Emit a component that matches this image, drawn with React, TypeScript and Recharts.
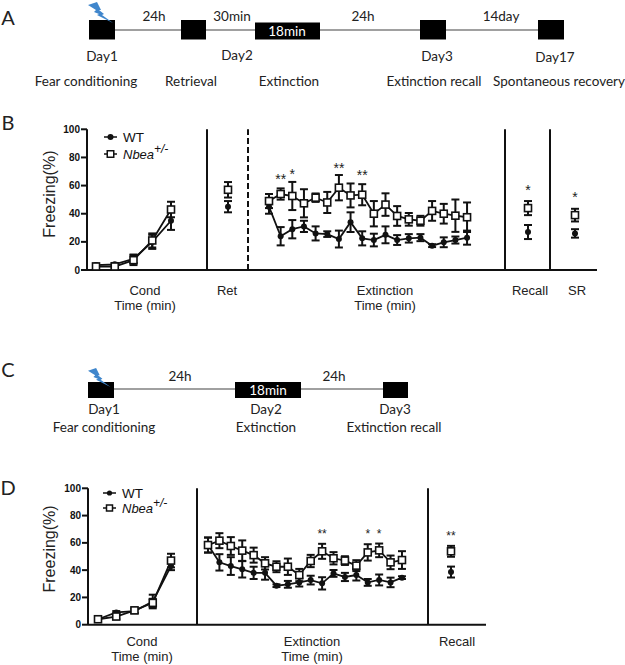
import React from "react";
import { ComposedChart, Line, XAxis, YAxis, ErrorBar, ReferenceLine, ReferenceDot, ReferenceArea, Legend } from "recharts";

// ---------- values (Freezing %) ----------
const bCondWT = [3.5, 4, 8, 20, 35];
const bCondWTErr = [1, 1, 3, 5, 6.5];
const bCondKO = [2.5, 2.5, 7, 21, 43];
const bCondKOErr = [1, 1, 3.5, 5, 5.5];
const bRetWT = [45];
const bRetWTErr = [4];
const bRetKO = [57];
const bRetKOErr = [5.5];
const bExtWT = [45, 24, 29, 31, 26, 25.5, 22, 34, 22.5, 21.3, 25, 21.3, 22.5, 23, 17.3, 19.7, 21.3, 23];
const bExtWTErr = [5, 6.5, 6.5, 4, 5, 2, 6, 7, 5, 4.5, 6, 3.5, 3, 2.5, 1, 3.5, 2.5, 5];
const bExtKO = [49, 54, 52.6, 47.4, 51.4, 48, 58.5, 53, 53.5, 40, 46.5, 38.4, 36, 35, 42, 40, 38.6, 37.5];
const bExtKOErr = [5, 4, 10, 10, 3, 7.5, 9, 8.5, 7.5, 9, 8, 7, 4.5, 3.5, 7, 7, 11.5, 10.5];
const bRecallWT = [27];
const bRecallWTErr = [5];
const bRecallKO = [44];
const bRecallKOErr = [5];
const bSrWT = [26];
const bSrWTErr = [3];
const bSrKO = [39];
const bSrKOErr = [4.5];

const dCondWT = [4, 9, 10, 17, 43];
const dCondWTErr = [1, 1, 1.5, 5, 3];
const dCondKO = [4, 6, 10.5, 16, 47];
const dCondKOErr = [1.5, 2, 2, 3, 5];
const dExtWT = [58.4, 45.7, 43, 40.6, 38, 38, 28.6, 29.6, 31, 32.7, 30.3, 37.6, 35, 36.4, 31, 32.8, 31, 34.5];
const dExtWTErr = [5.5, 6, 6.5, 6, 4.5, 5, 1, 2.5, 3, 3.2, 4.5, 2.5, 3, 4, 2.5, 4, 3.5, 1];
const dExtKO = [58.4, 61.6, 57.7, 54.3, 51, 45, 42.5, 42.5, 36.4, 46.7, 53.8, 48.7, 47, 43.3, 53, 54.5, 45.7, 47.4];
const dExtKOErr = [5.5, 5.5, 6.5, 7.5, 5.5, 4.5, 4, 6, 4.5, 4.5, 5.5, 4.5, 3.2, 4, 6, 5, 5, 6.5];
const dRecallWT = [38.6];
const dRecallWTErr = [4];
const dRecallKO = [53.8];
const dRecallKOErr = [4];

const yTicks = [0, 20, 40, 60, 80, 100];
const yLabel = "Freezing(%)";
const seriesNames = ["WT", "Nbea", "+/-"];

const bExtStars = [["**", 1, 65], ["*", 2, 68], ["**", 6, 72.5], ["**", 8, 67.5]];
const bRecallStars = ["*", 57];
const bSrStars = ["*", 52];
const dExtStars = [["**", 10, 67], ["*", 14, 67], ["*", 15, 67]];
const dRecallStars = ["**", 65];

const bGroups = [["Cond", "Time (min)"], ["Ret"], ["Extinction", "Time (min)"], ["Recall"], ["SR"]];
const dGroups = [["Cond", "Time (min)"], ["Extinction", "Time (min)"], ["Recall"]];

const aDurations = ["24h", "30min", "24h", "14day"];
const aDays = ["Day1", "Day2", "Day3", "Day17"];
const aStages = ["Fear conditioning", "Retrieval", "Extinction", "Extinction recall", "Spontaneous recovery"];
const cDurations = ["24h", "24h"];
const cDays = ["Day1", "Day2", "Day3"];
const cStages = ["Fear conditioning", "Extinction", "Extinction recall"];
const blockLabel = "18min";

// ---------- layout ----------
const SANS = "'Liberation Sans', Arial, sans-serif";
const CAL = "Lato, 'Open Sans', sans-serif";
const INK = "#111";

const rows = (start: number, step: number, wt: number[], wtErr: number[], ko: number[], koErr: number[]) =>
  wt.map((v, i) => ({ x: start + i * step, wt: v, wtErr: wtErr[i], ko: ko[i], koErr: koErr[i] }));

const WtDot = (r: number) => (p: any) => <circle key={p.index} cx={p.cx} cy={p.cy} r={r} fill={INK} stroke="none" />;
const KoDot = (s: number) => (p: any) => (
  <rect key={p.index} x={p.cx - s / 2} y={p.cy - s / 2} width={s} height={s} fill="#fff" stroke={INK} strokeWidth={1.6} />
);

const legendBody = (y1: number, y2: number, dotR: number, sq: number) => () => (
  <svg width={110} height={40} style={{ display: "block", overflow: "visible" }}>
    <line x1={0} x2={13} y1={y1} y2={y1} stroke={INK} strokeWidth={1.5} />
    <circle cx={6.5} cy={y1} r={dotR} fill={INK} />
    <line x1={0} x2={13} y1={y2} y2={y2} stroke={INK} strokeWidth={1.5} />
    <rect x={6.5 - sq / 2} y={y2 - sq / 2} width={sq} height={sq} fill="#fff" stroke={INK} strokeWidth={1.5} />
    <text x={19} y={y1 + 5} fontFamily={SANS} fontSize={13.5} fill={INK}>{seriesNames[0]}</text>
    <text x={19} y={y2 + 5} fontFamily={SANS} fontSize={13} fontStyle="italic" fill={INK}>{seriesNames[1]}</text>
    <text x={50} y={y2 - 1} fontFamily={SANS} fontSize={12} fontStyle="italic" fill={INK}>{seriesNames[2]}</text>
  </svg>
);

function Panel(p: any) {
  const { top, height, marginTop, axisH, xMin, xMax, segments, lines, dashed, stars, groups, centers, starSize, legend, labelDx, labelDy, dotR, sq, row1, row2, labelSize, legendPos } = p;
  const GroupTick = (t: any) => {
    const idx = centers.indexOf(t.payload.value);
    const g = groups[idx] || [];
    const baseY = height - axisH;
    return (
      <g>
        {g.map((s: string, i: number) => (
          <text key={i} x={t.x} y={baseY + (i === 0 ? row1 : row2)} textAnchor="middle" fontFamily={SANS} fontSize={13} fill="#222">{s}</text>
        ))}
      </g>
    );
  };
  return (
    <div style={{ position: "absolute", left: 0, top }}>
      <ComposedChart width={625} height={height} margin={{ top: marginTop, right: 625 - xMax, bottom: 0, left: 0 }}>
        <XAxis type="number" dataKey="x" domain={[xMin, xMax]} ticks={centers} interval={0} height={axisH} tick={GroupTick} tickLine={false} axisLine={{ stroke: INK, strokeWidth: 2 }} allowDataOverflow />
        <YAxis type="number" domain={[0, 100]} ticks={yTicks} width={xMin} tickSize={6} tickMargin={1} interval={0} axisLine={{ stroke: INK, strokeWidth: 2 }} tickLine={{ stroke: INK, strokeWidth: 2 }}
          tick={{ fontFamily: SANS, fontSize: 10, fontWeight: 700, fill: INK }}
          label={{ value: yLabel, angle: -90, position: "insideLeft", dx: labelDx, dy: labelDy, style: { fontFamily: SANS, fontSize: labelSize, fill: "#222" } }} />
        {lines.map((x: number) => <ReferenceLine key={x} x={x} stroke={INK} strokeWidth={2} />)}
        {dashed != null && <ReferenceLine x={dashed} stroke={INK} strokeWidth={2} strokeDasharray="6 3" />}
        {segments.map((s: any[], i: number) => (
          <Line key={"w" + i} data={s} dataKey="wt" type="linear" stroke={INK} strokeWidth={1.8} dot={WtDot(dotR)} isAnimationActive={false} name="WT">
            <ErrorBar dataKey="wtErr" direction="y" width={4} stroke={INK} strokeWidth={2} isAnimationActive={false} />
          </Line>
        ))}
        {segments.map((s: any[], i: number) => (
          <Line key={"k" + i} data={s} dataKey="ko" type="linear" stroke={INK} strokeWidth={1.8} dot={KoDot(sq)} isAnimationActive={false} name="Nbea+/-">
            <ErrorBar dataKey="koErr" direction="y" width={4} stroke={INK} strokeWidth={2} isAnimationActive={false} />
          </Line>
        ))}
        {stars.map(([label, x, y]: any, i: number) => (
          <ReferenceDot key={i} x={x} y={y} r={0} stroke="none" fill="none"
            label={{ value: label, position: "center", fontFamily: SANS, fontSize: starSize, fill: "#222" }} />
        ))}
        <Legend layout="horizontal" verticalAlign="middle" content={legend} wrapperStyle={{ position: "absolute", left: legendPos[0], top: legendPos[1], width: 110, height: 40, bottom: "auto" }} />
      </ComposedChart>
    </div>
  );
}

function Timeline(p: any) {
  const { top, height, lineY, blocks } = p;
  const anchors = [{ x: 0, y: 0 }, { x: 625, y: height }];
  return (
    <div style={{ position: "absolute", left: 0, top }}>
      <ComposedChart width={625} height={height} margin={{ top: 0, right: 0, bottom: 0, left: 0 }} data={anchors}>
        <XAxis type="number" dataKey="x" domain={[0, 625]} hide />
        <YAxis type="number" domain={[0, height]} reversed hide />
        <Line dataKey="y" stroke="none" dot={false} legendType="none" isAnimationActive={false} />
        {blocks.slice(1).map((b: number[], i: number) => (
          <ReferenceLine key={i} stroke="#808080" strokeWidth={1.5} segment={[{ x: blocks[i][1], y: lineY }, { x: b[0], y: lineY }]} />
        ))}
        {blocks.map((b: number[], i: number) => (
          <ReferenceArea key={i} x1={b[0]} x2={b[1]} y1={b[2]} y2={b[3]} fill="#000" fillOpacity={1} stroke="none" />
        ))}
      </ComposedChart>
    </div>
  );
}

const Tx = ({ x, y, c = "#222", s = 13.5, f = CAL, children }: any) => (
  <text x={x} y={y} textAnchor="middle" dominantBaseline="central" fontFamily={f} fontSize={s} fill={c}>{children}</text>
);

const Bolt = ({ x, y, k }: any) => (
  <g transform={`translate(${x} ${y}) scale(${k})`}>
    <polygon points="0,3 9,0 13,8 11,8 16,12 14,13 25,21 9,13 11,12 6,10 8,8" fill="#3f86cc" />
  </g>
);

export default function App() {
  const bSegs = [
    rows(96, 18.75, bCondWT, bCondWTErr, bCondKO, bCondKOErr),
    rows(228, 0, bRetWT, bRetWTErr, bRetKO, bRetKOErr),
    rows(269, 11.65, bExtWT, bExtWTErr, bExtKO, bExtKOErr),
    rows(528, 0, bRecallWT, bRecallWTErr, bRecallKO, bRecallKOErr),
    rows(575, 0, bSrWT, bSrWTErr, bSrKO, bSrKOErr),
  ];
  const dSegs = [
    rows(98, 18.25, dCondWT, dCondWTErr, dCondKO, dCondKOErr),
    rows(208, 11.41, dExtWT, dExtWTErr, dExtKO, dExtKOErr),
    rows(451, 0, dRecallWT, dRecallWTErr, dRecallKO, dRecallKOErr),
  ];
  const bStars = [
    ...bExtStars.map(([l, i, v]: any) => [l, 269 + i * 11.65, v]),
    [bRecallStars[0], 528, bRecallStars[1]],
    [bSrStars[0], 575, bSrStars[1]],
  ];
  const dStars = [
    ...dExtStars.map(([l, i, v]: any) => [l, 208 + i * 11.41, v]),
    [dRecallStars[0], 451, dRecallStars[1]],
  ];
  return (
    <div style={{ position: "absolute", left: 0, top: 0, width: 625, height: 665, background: "#fff", overflow: "hidden" }}>
      <Timeline top={0} height={90} lineY={30}
        blocks={[[89, 115, 20, 39.5], [181, 206, 20, 39.5], [255, 320, 22.5, 39.5], [420, 446, 20, 39.5], [538, 564, 20, 39.5]]} />
      <Timeline top={360} height={80} lineY={29}
        blocks={[[88, 114, 22, 38], [235, 301, 22, 38], [383, 408, 22, 38]]} />
      <Panel top={120} height={200} marginTop={9.3} axisH={50} xMin={87} xMax={597} segments={bSegs} lines={[207, 505, 550]} dashed={248}
        stars={bStars} starSize={14} groups={bGroups} centers={[145, 227, 385, 530, 577]} legend={legendBody(10, 27, 3, 6.5)} legendPos={[104, 7]}
        labelDx={44} labelDy={38} dotR={3} sq={7} row1={25} row2={40} labelSize={16} />
      <Panel top={480} height={185} marginTop={8.3} axisH={40.3} xMin={88} xMax={486} segments={dSegs} lines={[197, 428]}
        stars={dStars} starSize={12} groups={dGroups} centers={[142, 312, 457]} legend={legendBody(6, 21, 2.6, 6)} legendPos={[103, 7]}
        labelDx={44} labelDy={36} dotR={3} sq={7} row1={21} row2={36} labelSize={16} />
      <svg width={625} height={665} style={{ position: "absolute", left: 0, top: 0, pointerEvents: "none" }}>
        <Bolt x={88} y={2} k={1} />
        <Bolt x={88} y={368} k={0.9} />
        <Tx x={8} y={17} s={20}>A</Tx>
        <Tx x={8} y={122} s={20}>B</Tx>
        <Tx x={8} y={369} s={20}>C</Tx>
        <Tx x={8} y={487} s={20}>D</Tx>
        <Tx x={154} y={16}>{aDurations[0]}</Tx>
        <Tx x={232} y={16}>{aDurations[1]}</Tx>
        <Tx x={363} y={16}>{aDurations[2]}</Tx>
        <Tx x={501} y={16}>{aDurations[3]}</Tx>
        <Tx x={287} y={31} c="#fff">{blockLabel}</Tx>
        <Tx x={102} y={56}>{aDays[0]}</Tx>
        <Tx x={237} y={55}>{aDays[1]}</Tx>
        <Tx x={437} y={56}>{aDays[2]}</Tx>
        <Tx x={555} y={57}>{aDays[3]}</Tx>
        <Tx x={86} y={81}>{aStages[0]}</Tx>
        <Tx x={191} y={81}>{aStages[1]}</Tx>
        <Tx x={289} y={81}>{aStages[2]}</Tx>
        <Tx x={434} y={81}>{aStages[3]}</Tx>
        <Tx x={559} y={81}>{aStages[4]}</Tx>
        <Tx x={180} y={376}>{cDurations[0]}</Tx>
        <Tx x={334} y={376}>{cDurations[1]}</Tx>
        <Tx x={268} y={390} c="#fff">{blockLabel}</Tx>
        <Tx x={104} y={409}>{cDays[0]}</Tx>
        <Tx x={266} y={409}>{cDays[1]}</Tx>
        <Tx x={395} y={409}>{cDays[2]}</Tx>
        <Tx x={104} y={427}>{cStages[0]}</Tx>
        <Tx x={266} y={427}>{cStages[1]}</Tx>
        <Tx x={394} y={427}>{cStages[2]}</Tx>
      </svg>
    </div>
  );
}
